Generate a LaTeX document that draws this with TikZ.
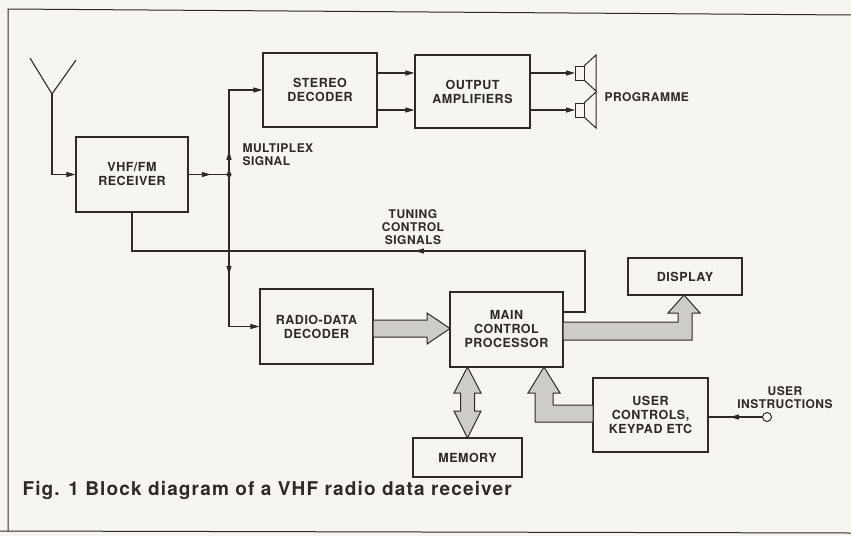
\documentclass[tikz,border=0pt]{standalone}
\usepackage{fontspec}
\setmainfont{TeX Gyre Heros}[LetterSpace=4]
\usepackage{tikz}
\usetikzlibrary{calc,arrows.meta,decorations.markings}
\definecolor{paper}{RGB}{246,245,240}
\definecolor{ink}{RGB}{45,42,40}
\definecolor{stipple}{RGB}{206,204,199}
\tikzset{
	block/.style={draw=ink, line width=1.2pt, fill=paper, align=center, inner sep=0pt, text=ink, font=\bfseries\fontsize{12.5}{14}\selectfont},
	wire/.style={draw=ink, color=ink, line width=1.1pt},
	tip/.style={-{Triangle[length=9pt,width=5pt]}},
	midarrow/.style={postaction={decorate}, decoration={markings, mark=at position #1 with {\arrow{Triangle[length=9pt,width=5pt]}}}},
	fat/.style={draw=ink, line width=1pt, fill=stipple},
	lbl/.style={text=ink, font=\bfseries\fontsize{12}{13}\selectfont},
	speaker/.pic={
		\draw[ink, line width=1pt] (0,-7) rectangle (9,7);
		\draw[ink, line width=1pt] (9,-7) -- (21,-18) -- (21,18) -- (9,7);
	},
}

\begin{document}
\begin{tikzpicture}[x=1pt,y=-1pt]
	% paper and frame
	\fill[paper] (0,0) rectangle (851,536);
	\useasboundingbox (0,0) rectangle (851,536);
	\draw[ink, line width=1pt] (8,531) -- (8,9) -- (851,15);
	\draw[ink, line width=1pt] (0,531) -- (851,533);
	
	% blocks
	\node[block, minimum width=112pt, minimum height=75pt] (rx) at (132,174.5) {VHF/FM\\RECEIVER};
	\node[block, minimum width=114pt, minimum height=74pt] (sd) at (320,90) {STEREO\\DECODER};
	\node[block, minimum width=115pt, minimum height=73pt] (oa) at (472.5,91.5) {OUTPUT\\AMPLIFIERS};
	\node[block, minimum width=113pt, minimum height=75pt] (rdd) at (316.5,326.5) {RADIO-DATA\\DECODER};
	\node[block, minimum width=113pt, minimum height=75pt] (mcp) at (506.5,329.5) {MAIN\\CONTROL\\PROCESSOR};
	\node[block, minimum width=114pt, minimum height=37pt] (disp) at (685,276.5) {DISPLAY};
	\node[block, minimum width=109pt, minimum height=39pt] (mem) at (467.5,457.5) {MEMORY};
	\node[block, minimum width=115pt, minimum height=74pt] (uc) at (650.5,415) {USER\\CONTROLS,\\KEYPAD ETC};
	
	% aerial
	\coordinate (ant) at (52,94);
	\draw[wire] (30,58) -- (ant) -- (76,60);
	\draw[wire, tip] (ant) |- (rx.west);
	
	% multiplex signal out of the receiver
	\coordinate (jn) at (229,174.5);
	\draw[wire, midarrow=0.55] (rx.east) -- (jn);
	\fill[ink] (jn) circle (2.5pt);
	\draw[wire, tip, midarrow=0.2] (jn) -- (jn |- sd.west) -- (sd.west);
	\draw[wire, tip, midarrow=0.55] (jn) -- (jn |- rdd.west) -- (rdd.west);
	\node[lbl, anchor=west, align=left] (muxlbl) at (239,155) {MULTIPLEX\\SIGNAL};
	
	% stereo path to the loudspeakers
	\coordinate (sdA) at ([yshift=17pt]sd.east);
	\coordinate (sdB) at ([yshift=-20pt]sd.east);
	\draw[wire, tip] (sdA) -- (sdA -| oa.west);
	\draw[wire, tip] (sdB) -- (sdB -| oa.west);
	\coordinate (spkA) at (575,73);
	\coordinate (spkB) at (575,110);
	\draw[wire, tip] (spkA -| oa.east) -- (spkA);
	\draw[wire, tip] (spkB -| oa.east) -- (spkB);
	\pic at (spkA) {speaker};
	\pic at (spkB) {speaker};
	\node[lbl, anchor=west] (prog) at (601,97) {PROGRAMME};
	
	% tuning control back to the receiver
	\coordinate (tcs) at ($(mcp.north east)!0.27!(mcp.south east)$);
	\coordinate (tc) at (585,251);
	\draw[wire, midarrow=0.44] (tcs) -| (tc) -| (rx.south);
	\node[lbl, align=center] (tunlbl) at (413,227) {TUNING\\CONTROL\\SIGNALS};
	
	% data buses
	\filldraw[fat] (373,320) -- (427,320) -- (427,313) -- (450,328.5) -- (427,344) -- (427,337) -- (373,337) -- cycle;
	\filldraw[fat] (563,322) -- (678,322) -- (678,313) -- (668,313) -- (684,295) -- (700,313) -- (692,313) -- (692,340) -- (563,340) -- cycle;
	\filldraw[fat] (593,405) -- (553,405) -- (553,393) -- (560,393) -- (544,367) -- (528,393) -- (535,393) -- (535,422) -- (593,422) -- cycle;
	\filldraw[fat] (467.5,367) -- (481,393) -- (474.5,393) -- (474.5,411) -- (481,411) -- (467.5,438) -- (454,411) -- (460.5,411) -- (460.5,393) -- (454,393) -- cycle;
	
	% user input
	\node[draw=ink, line width=1pt, circle, fill=paper, minimum size=9pt, inner sep=0pt] (inp) at (767,417) {};
	\draw[wire, midarrow=0.6] (inp) -- (inp -| uc.east);
	\node[lbl, align=center] (uilbl) at (785,398) {USER\\INSTRUCTIONS};
	
	% caption
	\node[anchor=west, text=ink, font=\bfseries\fontsize{19}{22}\selectfont\addfontfeature{LetterSpace=6}] (cap) at (19,490) {Fig. 1 Block diagram of a VHF radio data receiver};
\end{tikzpicture}
\end{document}
